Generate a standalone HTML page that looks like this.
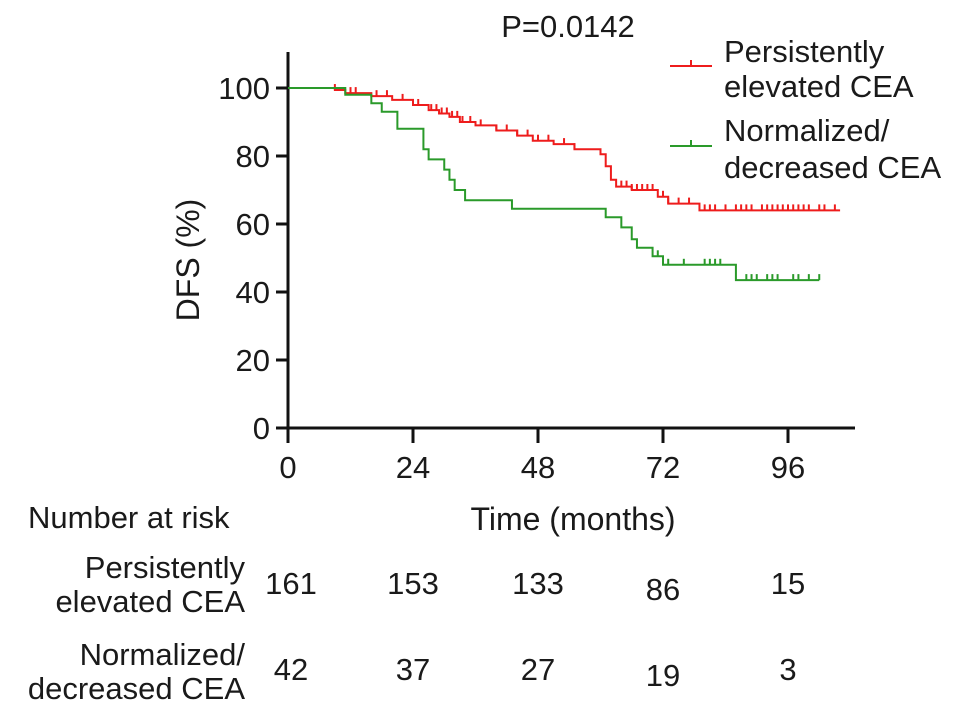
<!DOCTYPE html>
<html><head><meta charset="utf-8"><style>
body{margin:0;background:#fff}
svg text{font-family:"Liberation Sans",Arial,sans-serif;fill:#1a1a1a}
</style></head><body>
<svg width="969" height="720" xmlns="http://www.w3.org/2000/svg">
<text x="568" y="37" font-size="31" text-anchor="middle">P=0.0142</text>
<g id="axes"></g>
<g id="curves"></g>
<text transform="translate(199,260) rotate(-90)" font-size="32" text-anchor="middle">DFS (%)</text>
<text x="573" y="530" font-size="32" text-anchor="middle">Time (months)</text>
<g>
<line x1="670" y1="66" x2="712" y2="66" stroke="#ee1c1c" stroke-width="2"/><line x1="691" y1="66" x2="691" y2="60" stroke="#ee1c1c" stroke-width="2"/>
<text font-size="31"><tspan x="724" y="62">Persistently</tspan><tspan x="724" y="97">elevated CEA</tspan></text>
<line x1="670" y1="146" x2="712" y2="146" stroke="#2a9a2a" stroke-width="2"/><line x1="691" y1="146" x2="691" y2="140" stroke="#2a9a2a" stroke-width="2"/>
<text font-size="31"><tspan x="724" y="141">Normalized/</tspan><tspan x="724" y="178">decreased CEA</tspan></text>
</g>
<g>
<text x="28" y="528" font-size="31">Number at risk</text>
<text x="245" y="578" text-anchor="end" font-size="31">Persistently</text>
<text x="245" y="612" text-anchor="end" font-size="31">elevated CEA</text>
<text x="245" y="665" text-anchor="end" font-size="31">Normalized/</text>
<text x="245" y="699" text-anchor="end" font-size="31">decreased CEA</text>
<g id="risk"></g>
</g>
</svg>
<script>
const yTicks=[0,20,40,60,80,100];
const xTicks=[0,24,48,72,96];
const redSteps=[[0,100],[9,99.4],[11,98.5],[16,97.6],[20,96.5],[24,95],[27,93.5],[29,92.5],[31,91.5],[33,90],[36,89],[40,87.5],[44,86],[47,84.5],[51,83.5],[55,82],[60,80.5],[61,77],[62,73],[63,71],[66,70],[71,68],[73,66],[79,64]];
const redEnd=106;
const redCensor=[9,12,13,17,19,22,25,27.5,28.5,29.5,30.5,31.5,32.5,33.5,35,37,40,42,44,46,48,50,53,55,64,65,66,67,68,69,70,72,73,75,77,80,81,82,84,86,87,88,89,91,92,93,94,95,96,97,98,99,100,102,103,105];
const greenSteps=[[0,100],[11,98],[16,95.5],[18,93],[21,88],[26,82],[27,79],[30,76],[31,73],[32,70],[34,67],[43,64.5],[61,62],[64,59],[66,55.5],[67,53],[70,50.5],[72,48],[86,43.5]];
const greenEnd=102;
const greenCensor=[71,73,76,80,81,82,83,88,89,90,92,93,94,97,98,100,102];
const riskRed=[161,153,133,86,15];
const riskGreen=[42,37,27,19,3];
const riskTimes=[0,24,48,72,96];
const NS="http://www.w3.org/2000/svg";
const X=t=>288+t*125/24, Y=v=>428-v*3.4;
function mk(tag,attrs,parent,txt){const e=document.createElementNS(NS,tag);for(const k in attrs)e.setAttribute(k,attrs[k]);if(txt!==undefined)e.textContent=txt;parent.appendChild(e);return e;}
const ax=document.getElementById('axes');
let e=mk('line',{x1:X(0),y1:Y(0),x2:855,y2:Y(0),stroke:'#111','stroke-width':3},ax);

e=mk('line',{x1:X(0),y1:Y(0)+1,x2:X(0),y2:52,stroke:'#111','stroke-width':3},ax);

yTicks.forEach(v=>{mk('line',{x1:X(0)-12,y1:Y(v),x2:X(0),y2:Y(v),stroke:'#111','stroke-width':3},ax);
 e=mk('text',{x:X(0)-18,y:Y(v)+11,'font-size':31,'text-anchor':'end'},ax,v);
 });
xTicks.forEach(t=>{mk('line',{x1:X(t),y1:Y(0),x2:X(t),y2:Y(0)+15,stroke:'#111','stroke-width':3},ax);
 e=mk('text',{x:X(t),y:Y(0)+50,'font-size':31,'text-anchor':'middle'},ax,t);
 });
const cv=document.getElementById('curves');
function survAt(steps,t){let s=100;for(const [a,b] of steps){if(a<=t)s=b;}return s;}
function curve(steps,end,cens,col,name){
 let d='M'+X(0)+','+Y(steps[0][1]);
 for(let i=1;i<steps.length;i++){d+=' H'+X(steps[i][0])+' V'+Y(steps[i][1]);}
 d+=' H'+X(end);
 let p=mk('path',{d:d,fill:'none',stroke:col,'stroke-width':2},cv);
 
 cens.forEach(t=>{const y=Y(survAt(steps,t));
  let c=mk('line',{x1:X(t),y1:y,x2:X(t),y2:y-6,stroke:col,'stroke-width':2},cv);
  });
}
curve(redSteps,redEnd,redCensor,'#ee1c1c','red');
curve(greenSteps,greenEnd,greenCensor,'#2a9a2a','green');
const rk=document.getElementById('risk');
riskTimes.forEach((t,i)=>{
 e=mk('text',{x:X(t)+(i==0?3:0),y:594+(i==3?6:0),'font-size':31,'text-anchor':'middle'},rk,riskRed[i]);
 
 e=mk('text',{x:X(t)+(i==0?3:0),y:680+(i==3?6:0),'font-size':31,'text-anchor':'middle'},rk,riskGreen[i]);
 
});
</script>
</body></html>
